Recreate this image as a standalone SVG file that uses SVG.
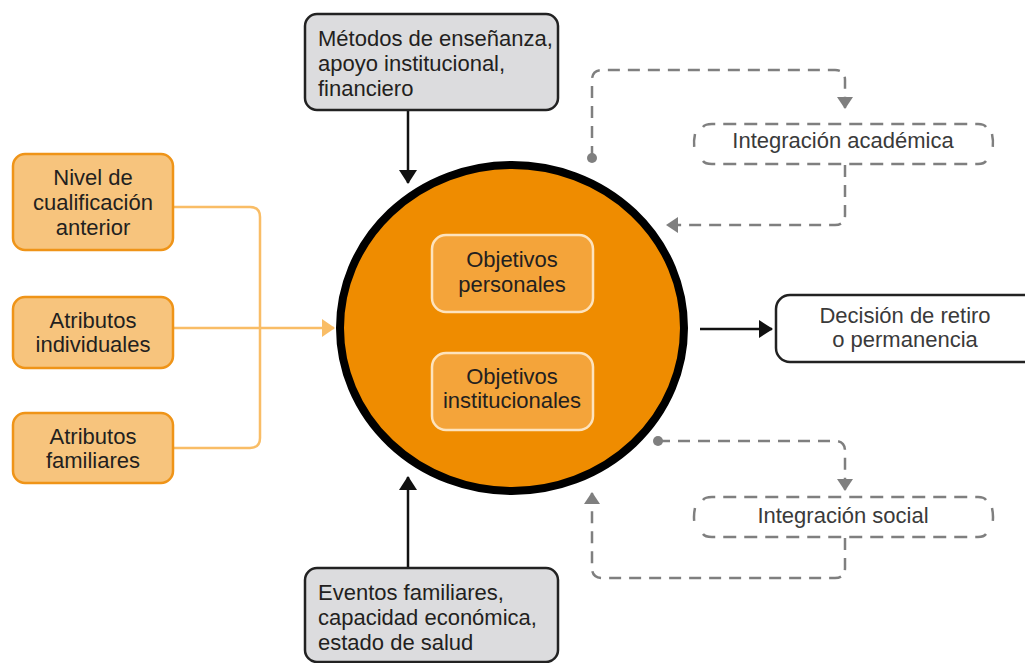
<svg xmlns="http://www.w3.org/2000/svg" width="1025" height="663" viewBox="0 0 1025 663">
<style>
  text { font-family: "Liberation Sans", Arial, sans-serif; font-size: 22px; fill: #231f20; }
  .c { text-anchor: middle; }
  .g { fill: #3a3a3a; }
  .orangebox { fill: #f7c47d; stroke: #ef9418; stroke-width: 2.5; }
  .innerbox { fill: #f4a43a; stroke: #fde3bd; stroke-width: 2.5; }
  .graybox { fill: #dcdcde; stroke: #222; stroke-width: 2.5; }
  .blk { stroke: #111; stroke-width: 2.5; fill: none; }
  .org { stroke: #f9bd66; stroke-width: 2.5; fill: none; }
  .dash { stroke: #7f7f7f; stroke-width: 2.5; fill: none; stroke-dasharray: 12 8; }
  .dbox { stroke: #7f7f7f; stroke-width: 2.5; fill: none; stroke-dasharray: 13 8; }
</style>
<defs>
  <marker id="ab" markerUnits="userSpaceOnUse" markerWidth="14" markerHeight="18" viewBox="0 0 14 18" refX="13" refY="9" orient="auto">
    <path d="M0,0 L14,9 L0,18 z" fill="#111"/>
  </marker>
  <marker id="ao" markerUnits="userSpaceOnUse" markerWidth="13" markerHeight="18" viewBox="0 0 13 18" refX="12" refY="9" orient="auto">
    <path d="M0,0 L13,9 L0,18 z" fill="#f9bd66"/>
  </marker>
  <marker id="ag" markerUnits="userSpaceOnUse" markerWidth="12" markerHeight="16" viewBox="0 0 12 16" refX="11" refY="8" orient="auto">
    <path d="M0,0 L12,8 L0,16 z" fill="#7f7f7f"/>
  </marker>
</defs>

<g id="connectors">
  <path class="org" d="M173,207 H250 Q260,207 260,217 V438 Q260,448 250,448 H173"/>
  <path class="org" d="M173,328 H334" marker-end="url(#ao)"/>
  <path class="blk" d="M408,110 V183" marker-end="url(#ab)"/>
  <path class="blk" d="M408,568 V477" marker-end="url(#ab)"/>
  <path class="blk" d="M700,329 H772" marker-end="url(#ab)"/>
  <path class="dash" d="M592,158 V80 Q592,70 602,70 H835 Q845,70 845,80 V108" marker-end="url(#ag)"/>
  <circle cx="592" cy="158" r="5" fill="#7f7f7f"/>
  <path class="dash" d="M845,165 V215 Q845,225 835,225 H667" marker-end="url(#ag)"/>
  <path class="dash" d="M658,441 H835 Q845,441 845,451 V490" marker-end="url(#ag)"/>
  <circle cx="658" cy="441" r="5" fill="#7f7f7f"/>
  <path class="dash" d="M845,538 V568 Q845,578 835,578 H602 Q592,578 592,568 V493" marker-end="url(#ag)"/>
</g>

<g id="nivel">
  <rect class="orangebox" x="13" y="154" width="160" height="96" rx="12"/>
  <text class="c" x="93" y="185">Nivel de</text>
  <text class="c" x="93" y="210">cualificación</text>
  <text class="c" x="93" y="235">anterior</text>
</g>
<g id="individuales">
  <rect class="orangebox" x="13" y="297" width="160" height="71" rx="12"/>
  <text class="c" x="93" y="328">Atributos</text>
  <text class="c" x="93" y="352">individuales</text>
</g>
<g id="familiares">
  <rect class="orangebox" x="13" y="413" width="160" height="70" rx="12"/>
  <text class="c" x="93" y="444">Atributos</text>
  <text class="c" x="93" y="468">familiares</text>
</g>

<g id="metodos">
  <rect class="graybox" x="305" y="14" width="253" height="96" rx="12"/>
  <text x="318" y="46">Métodos de enseñanza,</text>
  <text x="318" y="71">apoyo institucional,</text>
  <text x="318" y="96">financiero</text>
</g>
<g id="eventos">
  <rect class="graybox" x="305" y="568" width="253" height="94" rx="12"/>
  <text x="318" y="600">Eventos familiares,</text>
  <text x="318" y="625">capacidad económica,</text>
  <text x="318" y="650">estado de salud</text>
</g>

<g id="centro">
  <ellipse cx="512" cy="328" rx="172" ry="163" fill="#ef8c00" stroke="#000" stroke-width="8"/>
</g>
<g id="personales">
  <rect class="innerbox" x="432" y="235" width="161" height="77" rx="14"/>
  <text class="c" x="512" y="267">Objetivos</text>
  <text class="c" x="512" y="292">personales</text>
</g>
<g id="institucionales">
  <rect class="innerbox" x="432" y="353" width="161" height="77" rx="14"/>
  <text class="c" x="512" y="384">Objetivos</text>
  <text class="c" x="512" y="408">institucionales</text>
</g>

<g id="decision">
  <rect x="776" y="295" width="262" height="67" rx="14" fill="#fff" stroke="#222" stroke-width="2.5"/>
  <text class="c g" x="905" y="323">Decisión de retiro</text>
  <text class="c g" x="905" y="347">o permanencia</text>
</g>

<g id="academica">
  <path class="dbox" d="M703,127 Q705,124 712,124 H978 Q984,124 986,127"/>
  <path class="dbox" d="M703,161 Q705,164 712,164 H978 Q984,164 986,161"/>
  <path class="dbox" d="M695,134 Q693,143 695,152" stroke-dasharray="none"/>
  <path class="dbox" d="M992,134 Q994,143 992,152" stroke-dasharray="none"/>
  <text class="c g" x="843" y="148">Integración académica</text>
</g>
<g id="social">
  <path class="dbox" d="M703,500 Q705,497 712,497 H978 Q984,497 986,500"/>
  <path class="dbox" d="M703,534 Q705,537 712,537 H978 Q984,537 986,534"/>
  <path class="dbox" d="M695,508 Q693,517 695,526" stroke-dasharray="none"/>
  <path class="dbox" d="M992,508 Q994,517 992,526" stroke-dasharray="none"/>
  <text class="c g" x="843" y="523">Integración social</text>
</g>
</svg>
